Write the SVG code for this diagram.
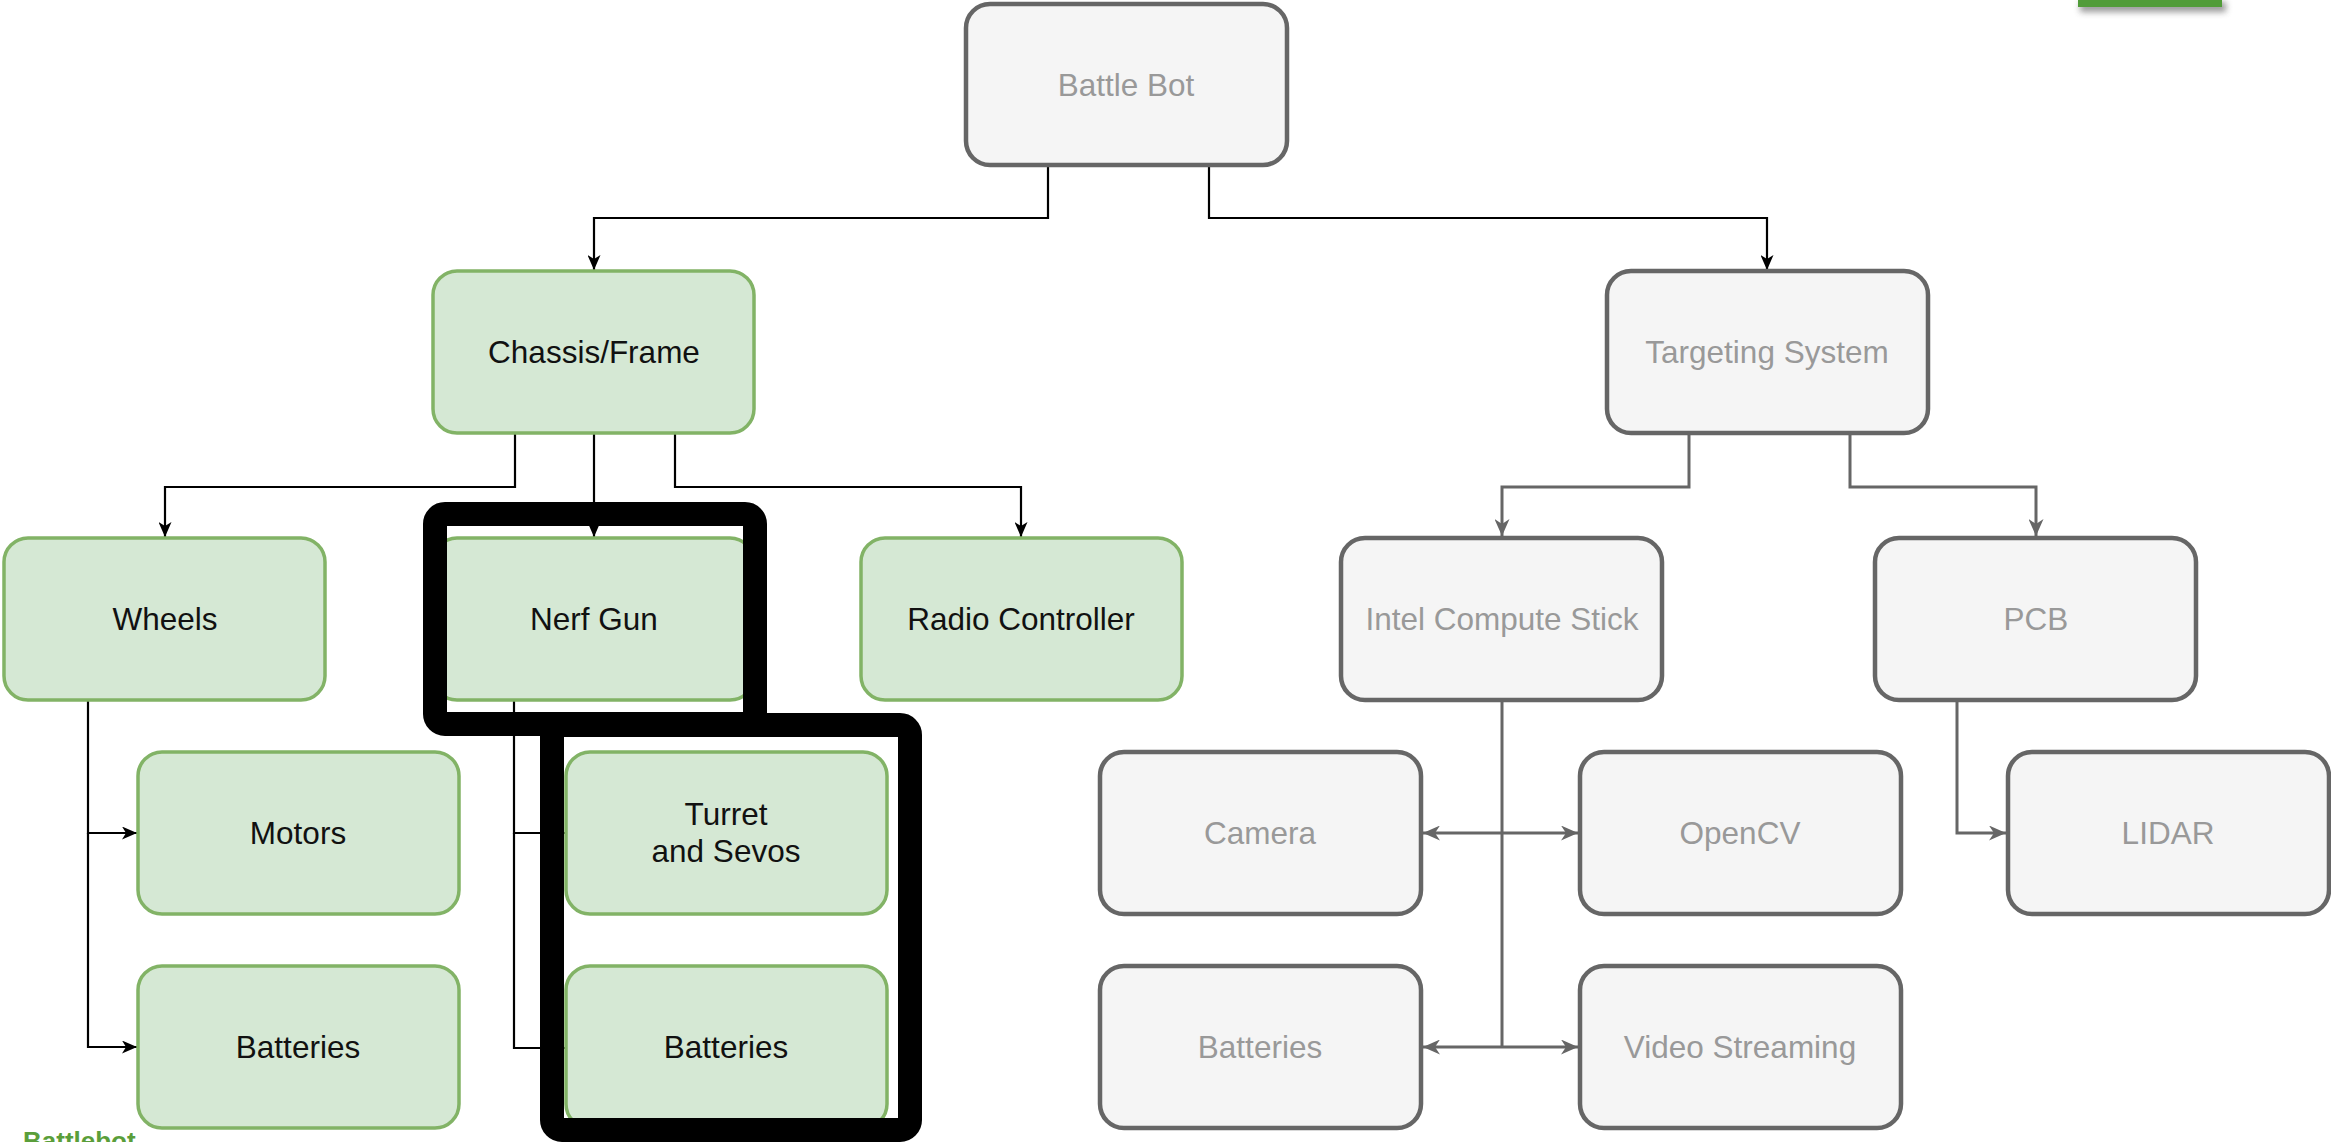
<svg xmlns="http://www.w3.org/2000/svg" width="2331" height="1142" viewBox="0 0 2331 1142">
<style>
.g rect{fill:#d5e8d4;stroke:#82b366;stroke-width:3.5}
.s rect{fill:#f5f5f5;stroke:#666666;stroke-width:4.5}
text{font-family:"Liberation Sans",Arial,Helvetica,sans-serif;font-size:31.5px;text-anchor:middle;dominant-baseline:central}
.g text{fill:#111111}
.s text{fill:#999999}
.cb path{fill:none;stroke:#000000;stroke-width:2.2}
.cg path{fill:none;stroke:#666666;stroke-width:3}
.hl rect{fill:none;stroke:#000000;stroke-width:24}
</style>
<defs>
<marker id="ab" markerUnits="userSpaceOnUse" markerWidth="15" markerHeight="13" refX="15" refY="6.5" orient="auto-start-reverse"><path d="M0,0 L15,6.5 L0,13 L4,6.5 Z" fill="#000000"/></marker>
<marker id="ag" markerUnits="userSpaceOnUse" markerWidth="17" markerHeight="15" refX="17" refY="7.5" orient="auto-start-reverse"><path d="M0,0 L17,7.5 L0,15 L5,7.5 Z" fill="#666666"/></marker>
<filter id="blur" x="-20%" y="-100%" width="140%" height="300%"><feGaussianBlur stdDeviation="3"/></filter>
</defs>
<rect id="topbar-shadow" x="2080" y="2" width="146" height="10" fill="#555555" opacity="0.6" filter="url(#blur)"/>
<rect id="topbar" x="2078" y="0" width="144" height="7" fill="#519c39"/>
<g id="connectors">
<g class="cb">
<path d="M1048,165 V218 H594 V270" marker-end="url(#ab)"/>
<path d="M1209,165 V218 H1767 V270" marker-end="url(#ab)"/>
<path d="M515,433 V487 H165 V537" marker-end="url(#ab)"/>
<path d="M594,433 V537" marker-end="url(#ab)"/>
<path d="M675,433 V487 H1021 V537" marker-end="url(#ab)"/>
<path d="M88,700 V833 H137" marker-end="url(#ab)"/>
<path d="M88,833 V1047 H137" marker-end="url(#ab)"/>
<path d="M514,700 V833 H565" marker-end="url(#ab)"/>
<path d="M514,833 V1048 H565" marker-end="url(#ab)"/>
</g>
<g class="cg">
<path d="M1689,433 V487 H1502 V536" marker-end="url(#ag)"/>
<path d="M1850,433 V487 H2036 V536" marker-end="url(#ag)"/>
<path d="M1502,700 V1047"/>
<path d="M1423,833 H1578" marker-start="url(#ag)" marker-end="url(#ag)"/>
<path d="M1423,1047 H1578" marker-start="url(#ag)" marker-end="url(#ag)"/>
<path d="M1957,700 V833 H2006" marker-end="url(#ag)"/>
</g>
</g>
<g id="battlebot" class="s"><rect x="966" y="4" width="321" height="161" rx="24"/><text x="1126" y="85">Battle Bot</text></g>
<g id="chassis" class="g"><rect x="433" y="271" width="321" height="162" rx="24"/><text x="594" y="352">Chassis/Frame</text></g>
<g id="targeting" class="s"><rect x="1607" y="271" width="321" height="162" rx="24"/><text x="1767" y="352">Targeting System</text></g>
<g id="wheels" class="g"><rect x="4" y="538" width="321" height="162" rx="24"/><text x="165" y="619">Wheels</text></g>
<g id="nerfgun" class="g"><rect x="433" y="538" width="321" height="162" rx="24"/><text x="594" y="619">Nerf Gun</text></g>
<g id="radio" class="g"><rect x="861" y="538" width="321" height="162" rx="24"/><text x="1021" y="619">Radio Controller</text></g>
<g id="intel" class="s"><rect x="1341" y="538" width="321" height="162" rx="24"/><text x="1502" y="619">Intel Compute Stick</text></g>
<g id="pcb" class="s"><rect x="1875" y="538" width="321" height="162" rx="24"/><text x="2036" y="619">PCB</text></g>
<g id="motors" class="g"><rect x="138" y="752" width="321" height="162" rx="24"/><text x="298" y="833">Motors</text></g>
<g id="turret" class="g"><rect x="566" y="752" width="321" height="162" rx="24"/><text x="726" y="814">Turret</text><text x="726" y="851">and Sevos</text></g>
<g id="camera" class="s"><rect x="1100" y="752" width="321" height="162" rx="24"/><text x="1260" y="833">Camera</text></g>
<g id="opencv" class="s"><rect x="1580" y="752" width="321" height="162" rx="24"/><text x="1740" y="833">OpenCV</text></g>
<g id="lidar" class="s"><rect x="2008" y="752" width="321" height="162" rx="24"/><text x="2168" y="833">LIDAR</text></g>
<g id="batteries1" class="g"><rect x="138" y="966" width="321" height="162" rx="24"/><text x="298" y="1047">Batteries</text></g>
<g id="batteries2" class="g"><rect x="566" y="966" width="321" height="162" rx="24"/><text x="726" y="1047">Batteries</text></g>
<g id="batteries3" class="s"><rect x="1100" y="966" width="321" height="162" rx="24"/><text x="1260" y="1047">Batteries</text></g>
<g id="video" class="s"><rect x="1580" y="966" width="321" height="162" rx="24"/><text x="1740" y="1047">Video Streaming</text></g>
<g id="highlights" class="hl">
<rect x="435" y="514" width="320" height="210" rx="10"/>
<rect x="552" y="725" width="358" height="405" rx="10"/>
</g>
<text id="footer" x="23" y="1150" style="text-anchor:start;dominant-baseline:alphabetic;font-size:26px;font-weight:bold;fill:#5a9e3a">Battlebot</text>
</svg>
